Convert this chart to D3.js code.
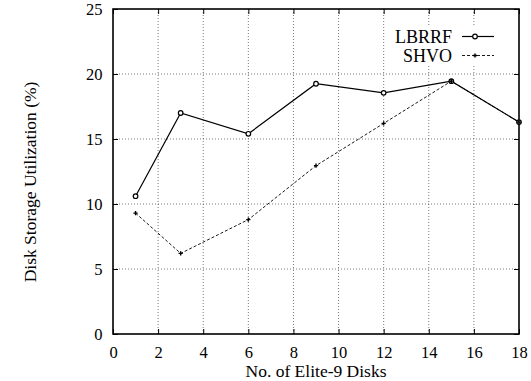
<!DOCTYPE html>
<html>
<head>
<meta charset="utf-8">
<script src="https://cdn.jsdelivr.net/npm/d3@7"></script>
<style>
  html, body { margin: 0; padding: 0; background: #fff; }
  svg text { font-family: "Liberation Serif", "Times New Roman", "DejaVu Serif", serif !important; fill: #000; }
</style>
</head>
<body>
<svg id="chart" width="531" height="381"></svg>
<script>
// Disk counts on the x axis
const disks = [1, 3, 6, 9, 12, 15, 18];
// Storage utilization (%) per scheme
const lbrrf = [10.6, 17.0, 15.4, 19.25, 18.55, 19.45, 16.3];
const shvo  = [9.3, 6.2, 8.8, 12.95, 16.2, 19.45, 16.3];
const seriesNames = ["LBRRF", "SHVO"];
const xTicks = [0, 2, 4, 6, 8, 10, 12, 14, 16, 18];
const yTicks = [0, 5, 10, 15, 20, 25];

const serif = "Liberation Serif, Times New Roman, serif";
const svg = d3.select("#chart");
const plotL = 113, plotR = 519, plotT = 9, plotB = 334;

const x = d3.scaleLinear().domain([0, 18]).range([plotL, plotR]);
const y = d3.scaleLinear().domain([0, 25]).range([plotB, plotT]);

// dotted grid
const grid = svg.append("g");
grid.selectAll("line.vg").data(xTicks.slice(1, -1)).join("line")
  .attr("x1", d => x(d)).attr("x2", d => x(d))
  .attr("y1", plotT).attr("y2", plotB)
  .attr("stroke", "#555").attr("stroke-width", 0.8).attr("stroke-dasharray", "1,2");
grid.selectAll("line.hg").data(yTicks.slice(1, -1)).join("line")
  .attr("x1", plotL).attr("x2", plotR)
  .attr("y1", d => y(d)).attr("y2", d => y(d))
  .attr("stroke", "#555").attr("stroke-width", 0.8).attr("stroke-dasharray", "1,2");

// axes with ticks pointing inward
const tickFont = 16.5, titleFont = 17.5;
svg.append("g").attr("transform", `translate(0,${plotB})`)
  .call(d3.axisBottom(x).tickValues(xTicks).tickSize(-5).tickPadding(11.8));
svg.append("g").attr("transform", `translate(${plotL},0)`)
  .call(d3.axisLeft(y).tickValues(yTicks).tickSize(-5).tickPadding(10.5));
svg.append("g").attr("transform", `translate(0,${plotT})`)
  .call(d3.axisTop(x).tickValues(xTicks).tickSize(-5).tickFormat(""));
svg.append("g").attr("transform", `translate(${plotR},0)`)
  .call(d3.axisRight(y).tickValues(yTicks).tickSize(-5).tickFormat(""));

svg.selectAll(".domain").remove();
svg.selectAll(".tick line").attr("stroke", "#000").attr("stroke-width", 1);
svg.selectAll(".tick text").attr("font-size", tickFont).style("font-family", serif);

// frame
svg.append("rect").attr("x", plotL).attr("y", plotT)
  .attr("width", plotR - plotL).attr("height", plotB - plotT)
  .attr("fill", "none").attr("stroke", "#000").attr("stroke-width", 1.6);

// axis titles
svg.append("text").attr("x", x(9)).attr("y", 377)
  .attr("text-anchor", "middle").attr("font-size", titleFont).text("No. of Elite-9 Disks");
svg.append("text").attr("transform", "translate(36,182) rotate(-90)")
  .attr("text-anchor", "middle").attr("font-size", titleFont).text("Disk Storage Utilization (%)");

const line = d3.line().x(d => x(d[0])).y(d => y(d[1]));
const dataL = disks.map((d, i) => [d, lbrrf[i]]);
const dataS = disks.map((d, i) => [d, shvo[i]]);

// LBRRF: solid line, open circle markers
svg.append("path").datum(dataL).attr("d", line)
  .attr("fill", "none").attr("stroke", "#000").attr("stroke-width", 1.2);
svg.append("g").selectAll("circle").data(dataL).join("circle")
  .attr("cx", d => x(d[0])).attr("cy", d => y(d[1])).attr("r", 2.3)
  .attr("fill", "#fff").attr("stroke", "#000").attr("stroke-width", 1.2);

// SHVO: dashed line, small plus markers
svg.append("path").datum(dataS).attr("d", line)
  .attr("fill", "none").attr("stroke", "#000").attr("stroke-width", 0.9).attr("stroke-dasharray", "3,2");
const plus = d3.symbol().type(d3.symbolCross).size(10);
svg.append("g").selectAll("path").data(dataS).join("path")
  .attr("transform", d => `translate(${x(d[0])},${y(d[1])})`)
  .attr("d", plus).attr("fill", "#000");

// legend
const legend = svg.append("g");
const legY = [36.5, 55.5];
legend.append("rect").attr("x", 385).attr("y", 26).attr("width", 115).attr("height", 40).attr("fill", "#fff");
seriesNames.forEach((name, i) => {
  legend.append("text").attr("x", 452).attr("y", legY[i] + 6)
    .attr("text-anchor", "end").attr("font-size", 18).text(name);
  legend.append("line").attr("x1", 462).attr("x2", 494).attr("y1", legY[i]).attr("y2", legY[i])
    .attr("stroke", "#000").attr("stroke-width", i === 0 ? 1.2 : 0.9)
    .attr("stroke-dasharray", i === 0 ? null : "3,2");
});
legend.append("circle").attr("cx", 475).attr("cy", legY[0]).attr("r", 2.3)
  .attr("fill", "#fff").attr("stroke", "#000").attr("stroke-width", 1.2);
legend.append("path").attr("transform", `translate(475,${legY[1]})`).attr("d", plus).attr("fill", "#000");
</script>
</body>
</html>
